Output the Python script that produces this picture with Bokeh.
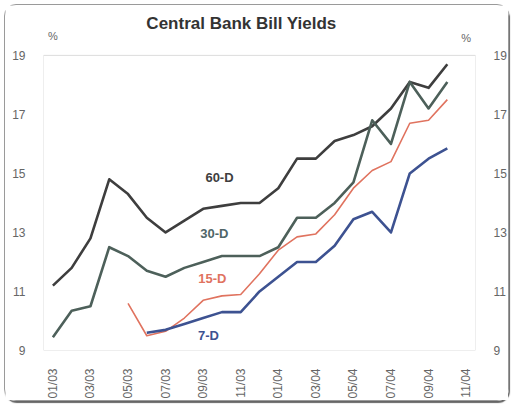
import math
from bokeh.plotting import figure
from bokeh.models import LinearAxis, Range1d, FixedTicker, Label, BoxAnnotation
from bokeh.embed import file_html
from bokeh.resources import INLINE

nan = float("nan")

months = ["01/03", "02/03", "03/03", "04/03", "05/03", "06/03", "07/03", "08/03",
          "09/03", "10/03", "11/03", "12/03", "01/04", "02/04", "03/04", "04/04",
          "05/04", "06/04", "07/04", "08/04", "09/04", "10/04", "11/04"]

y60 = [11.2, 11.8, 12.8, 14.8, 14.3, 13.5, 13.0, 13.4, 13.8, 13.9, 14.0, 14.0,
       14.5, 15.5, 15.5, 16.1, 16.3, 16.6, 17.2, 18.1, 17.9, 18.7]
y30 = [9.45, 10.35, 10.5, 12.5, 12.2, 11.7, 11.5, 11.8, 12.0, 12.2, 12.2, 12.2,
       12.5, 13.5, 13.5, 14.0, 14.7, 16.8, 16.0, 18.1, 17.2, 18.1]
y15 = [nan, nan, nan, nan, 10.6, 9.5, 9.65, 10.1, 10.7, 10.85, 10.9, 11.6,
       12.4, 12.85, 12.95, 13.6, 14.5, 15.1, 15.4, 16.7, 16.8, 17.5]
y7 = [nan, nan, nan, nan, nan, 9.6, 9.7, 9.9, 10.1, 10.3, 10.3, 11.0,
      11.5, 12.0, 12.0, 12.55, 13.45, 13.7, 13.0, 15.0, 15.5, 15.85]

series_names = ["60-D", "30-D", "15-D", "7-D"]
series_colors = ["#3e3e3e", "#4d605a", "#e0735f", "#3d5291"]
series_widths = [2.6, 2.6, 1.6, 2.6]
label_colors = ["#3e3e3e", "#4f6668", "#e0735f", "#3d5291"]
label_pos = [(8.87, 14.85), (8.6, 12.95), (8.49, 11.45), (8.28, 9.5)]

title_text = "Central Bank Bill Yields"
unit_text = "%"

y_ticks = [9, 11, 13, 15, 17, 19]
x_ticks = list(range(0, 23, 2))

x = list(range(len(y60)))
x_lo, x_hi = -0.5, len(months) - 0.5

p = figure(width=505, height=397, output_backend="svg", toolbar_location=None,
           x_range=Range1d(x_lo, x_hi), y_range=Range1d(9, 20.69),
           min_border_left=38, min_border_right=35, min_border_top=0,
           min_border_bottom=52, background_fill_color="white",
           border_fill_color="white")
p.styles = {"margin": "4px", "border": "1px solid #9a9a9a", "border-radius": "12px",
            "box-shadow": "1px 2px 1px #666"}

p.xgrid.visible = False
p.ygrid.visible = False
p.outline_line_color = None

# plot frame drawn around the 9..19 band
p.add_layout(BoxAnnotation(left=x_lo, right=x_hi, bottom=y_ticks[0], top=y_ticks[-1],
                           fill_color=None, line_color="#8a8a8a", line_width=1))

for data, c, w in zip([y60, y30, y15, y7], series_colors, series_widths):
    p.line(x, data, line_color=c, line_width=w, line_join="round")

tick_font = "Liberation Sans"

p.xaxis.ticker = FixedTicker(ticks=x_ticks)
p.xaxis.major_label_overrides = {t: months[t] for t in x_ticks}
p.xaxis.major_label_orientation = math.pi / 2
p.yaxis.ticker = FixedTicker(ticks=y_ticks)

right = LinearAxis(ticker=FixedTicker(ticks=y_ticks))
p.add_layout(right, "right")

for ax in [p.xaxis[0], p.yaxis[0], right]:
    ax.axis_line_color = None
    ax.major_tick_line_color = None
    ax.minor_tick_line_color = None
    ax.major_label_text_font = tick_font
    ax.major_label_text_font_size = "12px"
    ax.major_label_text_color = "#666666"
    ax.major_label_standoff = 12

for name, (lx, ly), c in zip(series_names, label_pos, label_colors):
    p.add_layout(Label(x=lx, y=ly, text=name, text_color=c, text_font=tick_font,
                       text_font_size="13px", text_font_style="bold",
                       text_align="center", text_baseline="middle"))

p.add_layout(Label(x=10.04, y=20.08, text=title_text, text_color="#333333",
                   text_font=tick_font, text_font_size="17px", text_font_style="bold",
                   text_align="center", text_baseline="middle"))
p.add_layout(Label(x=0.0, y=19.64, text=unit_text, text_color="#666666", text_font=tick_font,
                   text_font_size="11px", text_align="center", text_baseline="middle"))
p.add_layout(Label(x=22.0, y=19.6, text=unit_text, text_color="#666666", text_font=tick_font,
                   text_font_size="11px", text_align="center", text_baseline="middle"))

open("out.html", "w").write(file_html(p, INLINE))
